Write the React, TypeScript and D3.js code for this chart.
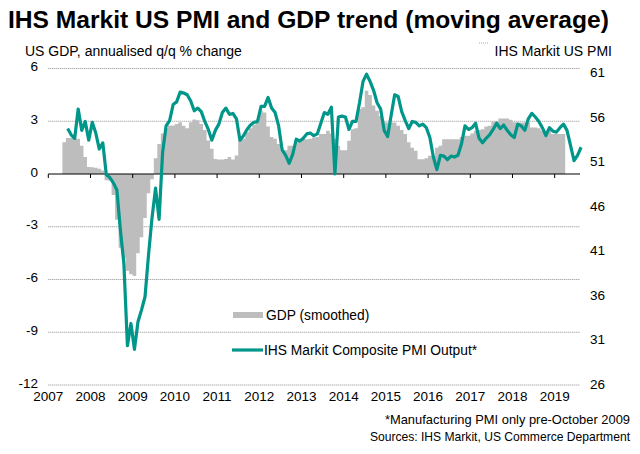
import React from "react";
import * as d3 from "d3";

// GDP (smoothed), monthly columns starting May 2007 (month index 4 from Jan 2007)
const gdpStartMonth = 4;
const gdpValues = [
  1.8, 2.05, 2.05, 2.05, 2.0, 1.6, 0.96, 0.4, 0.38, 0.35, 0.3, 0.2,
  -0.35, -0.37, -1.2, -2.6, -4.2, -4.8, -5.5, -5.7, -5.8, -4.5, -3.6, -2.5,
  -1.1, -0.3, 0.9, 1.7, 2.3, 2.6, 2.76, 2.76, 2.85, 2.95, 2.75, 2.6,
  2.95, 3.1, 3.05, 2.85, 2.5, 1.9, 1.43, 0.85, 0.83, 0.83, 0.85, 0.96,
  0.83, 1.05, 1.9, 2.0, 2.38, 2.6, 2.8, 3.1, 3.6, 3.5, 2.7, 2.1,
  2.0, 1.7, 1.35, 1.35, 1.6, 1.6, 1.8, 1.98, 1.98, 1.98, 2.0, 2.08,
  2.1, 2.27, 2.27, 2.46, 2.3, 2.0, 1.6, 1.35, 1.35, 1.89, 2.55, 2.6,
  3.69, 3.8, 4.74, 4.5, 3.9, 3.6, 3.3, 2.95, 2.93, 2.93, 2.93, 2.75,
  2.5, 2.27, 1.8, 1.5, 1.32, 0.84, 0.84, 0.9, 1.04, 1.04, 1.5, 1.6,
  1.98, 1.98, 1.98, 1.98, 1.98, 2.1, 2.18, 2.18, 2.3, 2.46, 2.5, 2.55,
  2.7, 2.75, 2.97, 3.0, 3.16, 3.16, 3.16, 3.09, 2.95, 2.93, 2.93, 2.93,
  2.93, 2.65, 2.65, 2.6, 2.46, 2.46, 2.46, 2.27, 2.27, 2.27, 2.27,
];

// IHS Markit Composite PMI Output (manufacturing pre-Oct 2009), monthly from June 2007
const pmiStartMonth = 5;
const pmiValues = [
  54.7, 54.0, 53.6, 56.9, 54.5, 55.5, 53.4, 55.4, 54.2, 52.4, 53.1,
  49.5, 49.2, 48.6, 47.8, 43.3, 39.5, 30.3, 32.8, 29.9, 33.0, 34.3, 35.8,
  40.5, 44.7, 48.0, 44.5, 52.0, 55.0, 55.6, 57.4, 57.7, 58.8, 58.7, 58.5,
  57.8, 56.7, 57.0, 56.6, 55.5, 54.6, 53.4, 54.5, 55.2, 56.5, 57.0, 56.3,
  56.4, 55.8, 53.4, 53.9, 54.6, 55.1, 55.4, 55.5, 57.2, 57.2, 58.2, 57.0,
  56.5, 55.0, 52.3, 51.7, 50.8, 51.8, 53.5, 53.3, 53.6, 54.1, 54.2, 53.9,
  54.1, 55.3, 56.5, 56.3, 57.1, 49.6, 56.0, 56.1, 56.0, 54.6, 55.5, 55.5,
  57.6, 60.0, 60.8, 60.0, 59.0, 57.6, 56.9, 54.5, 53.8, 56.2, 58.5, 58.3,
  56.6, 55.6, 54.7, 55.5, 55.4, 55.0, 55.2, 54.8, 53.7, 51.5, 50.1, 51.7,
  51.6, 51.2, 51.6, 51.5, 51.7, 53.0, 55.0, 54.6, 54.8, 55.3, 53.6, 53.1,
  53.6, 54.0, 54.6, 55.3, 54.7, 55.1, 54.5, 54.0, 53.7, 55.2, 55.0, 54.5,
  55.8, 56.4, 56.0, 55.5, 54.8, 53.9, 54.8, 54.4, 54.3, 54.8, 55.2, 54.5,
  52.8, 51.1, 51.7, 52.6,
];

const years = [2007, 2008, 2009, 2010, 2011, 2012, 2013, 2014, 2015, 2016, 2017, 2018, 2019];
const gdpTicks = [6, 3, 0, -3, -6, -9, -12];
const pmiTicks = [61, 56, 51, 46, 41, 36, 31, 26];

const FONT = "'Liberation Sans', Arial, sans-serif";
const TEAL = "#00968A";
const GREY = "#BDBDBD";

export default function App() {
  const x = d3.scaleLinear().domain([2007, 2019.6]).range([48.3, 580]);
  const yL = d3.scaleLinear().domain([-12, 6]).range([385, 68.5]);
  const yR = d3.scaleLinear().domain([26, 61]).range([384, 72.5]);

  const monthToYear = (m: number) => 2007 + m / 12;

  const gdpPts = gdpValues.map((v, i) => ({ m: gdpStartMonth + i, v }));
  const lastG = gdpPts[gdpPts.length - 1];
  const gdpStep = [...gdpPts, { m: lastG.m + 1, v: lastG.v }];
  const area = d3
    .area<{ m: number; v: number }>()
    .x((d) => x(monthToYear(d.m)))
    .y0(yL(0))
    .y1((d) => yL(d.v))
    .curve(d3.curveStepAfter);

  const line = d3
    .line<number>()
    .x((_, i) => x(monthToYear(pmiStartMonth + i + 0.5)))
    .y((d) => yR(d));

  const x0 = x(2007);
  const x1 = x(2019.6);

  return (
    <svg
      width={640}
      height={454}
      style={{ position: "absolute", left: 0, top: 0, background: "#fff" }}
      fontFamily={FONT}
    >
      <text x={8} y={28} fontSize={24.6} fontWeight="bold" fill="#000">
        IHS Markit US PMI and GDP trend (moving average)
      </text>
      <text x={25} y={56} fontSize={14} fill="#000">
        US GDP, annualised q/q % change
      </text>
      <text x={612} y={56} fontSize={14} fill="#000" textAnchor="end">
        IHS Markit US PMI
      </text>
      <line x1={479} x2={488} y1={43} y2={43} stroke="#aaa" strokeWidth={1} strokeDasharray="1,1" />

      {gdpTicks.map((t) => (
        <g key={"g" + t}>
          {t !== 0 && (
            <line
              x1={x0}
              x2={x1}
              y1={yL(t)}
              y2={yL(t)}
              stroke="#8c8c8c"
              strokeWidth={1}
              strokeDasharray="1,1"
            />
          )}
          <text x={38} y={yL(t) + 2.5} fontSize={13.5} textAnchor="end" fill="#000">
            {t}
          </text>
        </g>
      ))}
      {pmiTicks.map((t) => (
        <text key={"p" + t} x={590} y={yR(t) + 4.5} fontSize={13.5} fill="#000">
          {t}
        </text>
      ))}

      <path d={area(gdpStep) || ""} fill={GREY} stroke="none" />

      <line x1={x0} x2={x1} y1={yL(0)} y2={yL(0)} stroke="#000" strokeWidth={1} />
      {years.map((yr) => (
        <line key={"t" + yr} x1={x(yr)} x2={x(yr)} y1={yL(0)} y2={yL(0) + 4} stroke="#000" strokeWidth={1} />
      ))}

      <path d={line(pmiValues) || ""} fill="none" stroke={TEAL} strokeWidth={3.2} strokeLinejoin="round" />

      {years.map((yr) => (
        <text key={"y" + yr} x={x(yr)} y={401} fontSize={13.5} textAnchor="middle" fill="#000">
          {yr}
        </text>
      ))}

      <rect x={233} y={312} width={30} height={6} fill={GREY} />
      <text x={266} y={320} fontSize={13.8} fill="#000">
        GDP (smoothed)
      </text>
      <line x1={232} x2={263} y1={350} y2={350} stroke={TEAL} strokeWidth={3.2} />
      <text x={264} y={355} fontSize={13.8} fill="#000">
        IHS Markit Composite PMI Output*
      </text>

      <text x={630} y={424} fontSize={12.9} textAnchor="end" fill="#000">
        *Manufacturing PMI only pre-October 2009
      </text>
      <text x={630} y={441} fontSize={12.1} textAnchor="end" fill="#000">
        Sources: IHS Markit, US Commerce Department
      </text>
    </svg>
  );
}
